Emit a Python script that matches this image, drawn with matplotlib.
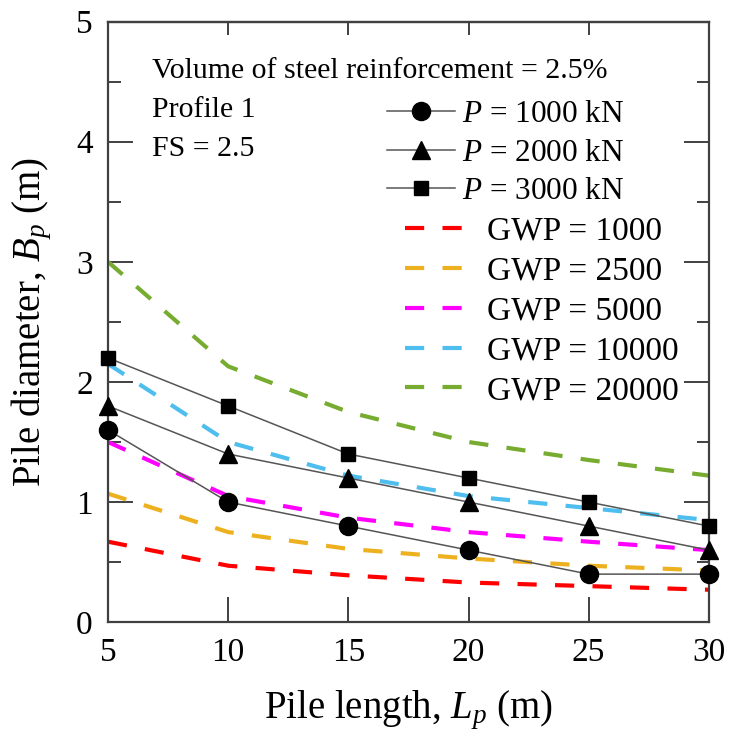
import numpy as np
import matplotlib
matplotlib.use('Agg')
import matplotlib.pyplot as plt

plt.rcParams['font.family'] = ['Liberation Serif', 'DejaVu Serif']
plt.rcParams['mathtext.fontset'] = 'custom'
plt.rcParams['mathtext.rm'] = 'Liberation Serif'
plt.rcParams['mathtext.it'] = 'Liberation Serif:italic'

# pile length (m)
lengths = [5, 10, 15, 20, 25, 30]

# pile diameter for each load
p_labels = ['$P$ = 1000 kN', '$P$ = 2000 kN', '$P$ = 3000 kN']
p_markers = ['o', '^', 's']
p_sizes = [13, 13, 10]
d_p1000 = [1.6, 1.0, 0.8, 0.6, 0.4, 0.4]
d_p2000 = [1.8, 1.4, 1.2, 1.0, 0.8, 0.6]
d_p3000 = [2.2, 1.8, 1.4, 1.2, 1.0, 0.8]

# GWP contour lines
gwp_labels = ['GWP = 1000', 'GWP = 2500', 'GWP = 5000', 'GWP = 10000', 'GWP = 20000']
gwp_colors = ['#FF0000', '#EDB120', '#FF00FF', '#4DBEEE', '#77AC30']
g1000 = [0.67, 0.47, 0.39, 0.33, 0.30, 0.27]
g2500 = [1.07, 0.75, 0.61, 0.53, 0.47, 0.43]
g5000 = [1.50, 1.05, 0.87, 0.75, 0.67, 0.60]
g10000 = [2.15, 1.50, 1.22, 1.05, 0.95, 0.85]
g20000 = [3.00, 2.13, 1.75, 1.50, 1.35, 1.22]


def main():
    fig = plt.figure(figsize=(7.3, 7.46), dpi=100)
    ax = fig.add_axes([0.148, 0.166, 0.823, 0.805])

    p_lines = []
    for d, lab, m, s in zip([d_p1000, d_p2000, d_p3000], p_labels, p_markers, p_sizes):
        ln, = ax.plot(lengths, d, color='#555555', linewidth=1.1, marker=m,
                      markersize=s, markerfacecolor='k', markeredgecolor='k',
                      label=lab, clip_on=False, zorder=3)
        p_lines.append(ln)

    g_lines = []
    for g, lab, c in zip([g1000, g2500, g5000, g10000, g20000], gwp_labels, gwp_colors):
        ln, = ax.plot(lengths, g, color=c, linewidth=3, linestyle=(0, (4.6, 4.4)),
                      label=lab, zorder=2)
        g_lines.append(ln)

    ax.set_xlim(5, 30)
    ax.set_ylim(0, 5)
    ax.set_xticks(np.arange(5, 31, 5))
    ax.set_yticks(np.arange(0, 6, 1))
    ax.set_yticks(np.arange(0, 5.1, 0.5), minor=True)
    ax.tick_params(which='both', direction='in', top=False, right=True,
                   labelsize=24, width=1.4, color='#404040', pad=11)
    ax.tick_params(which='major', length=18)
    ax.tick_params(which='minor', length=9)
    for sp in ax.spines.values():
        sp.set_linewidth(1.6)
        sp.set_color('#404040')

    # short ticks along the top edge
    top = ax.secondary_xaxis('top')
    top.set_xticks(np.arange(5, 31, 5))
    top.tick_params(direction='in', length=9, width=1.4, color='#404040',
                    labeltop=False)
    top.spines['top'].set_linewidth(1.6)
    top.spines['top'].set_color('#404040')

    ax.set_xlabel('Pile length, $L_p$ (m)', fontsize=28, labelpad=15)
    ax.set_ylabel('Pile diameter, $B_p$ (m)', fontsize=28, labelpad=16)

    ax.text(0.073, 0.939, 'Volume of steel reinforcement = 2.5%\nProfile 1\nFS = 2.5',
            transform=ax.transAxes, fontsize=21.5, va='top', ha='left',
            linespacing=1.65)

    leg1 = ax.legend(handles=p_lines, loc='upper left', bbox_to_anchor=(0.464, 0.869),
                     frameon=False, fontsize=22.5, handlelength=2.18,
                     handletextpad=0.22, labelspacing=0.3, borderpad=0,
                     borderaxespad=0)
    ax.add_artist(leg1)
    ax.legend(handles=g_lines, loc='upper left', bbox_to_anchor=(0.494, 0.676),
              frameon=False, fontsize=24, handlelength=1.74,
              handletextpad=0.72, labelspacing=0.28, borderpad=0,
              borderaxespad=0)

    fig.savefig('out.png', dpi=100)


main()
